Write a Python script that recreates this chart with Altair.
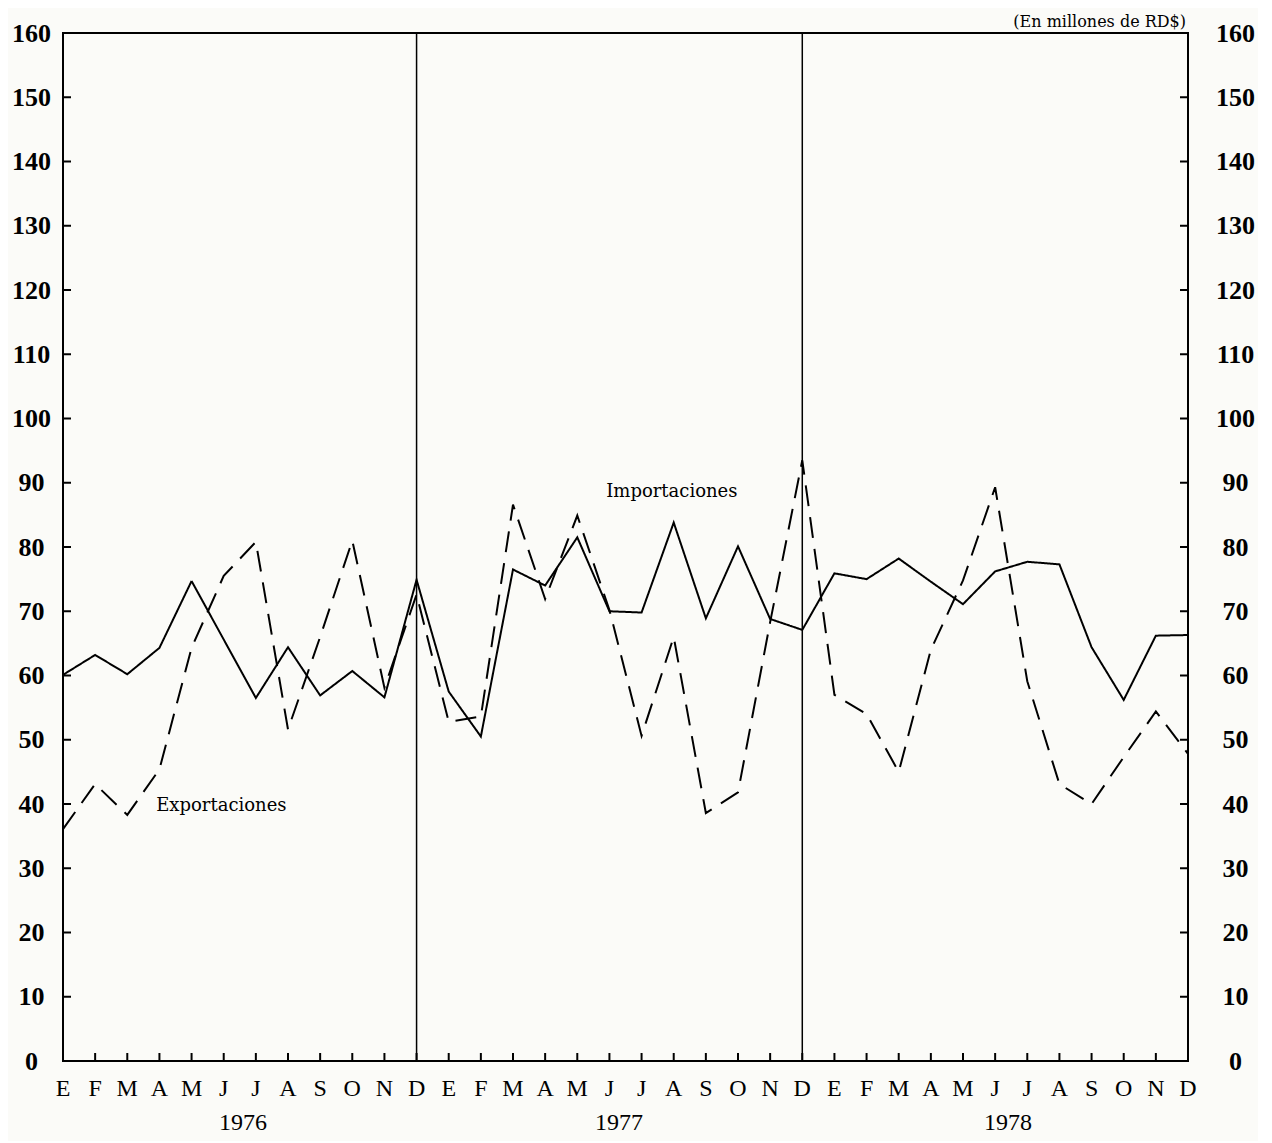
import altair as alt
import pandas as pd

# ---- data ----
month_letters = ["E", "F", "M", "A", "M", "J", "J", "A", "S", "O", "N", "D"]
years = ["1976", "1977", "1978"]
year_label_pos = [5.6, 17.3, 29.4]

importaciones = [
    60.1, 63.2, 60.2, 64.3, 74.7, 65.6, 56.5, 64.4, 56.9, 60.7, 56.6, 74.9,
    57.5, 50.5, 76.5, 74.0, 81.5, 70.0, 69.8, 83.8, 68.9, 80.1, 68.8, 67.1,
    75.9, 75.0, 78.2, 74.6, 71.1, 76.2, 77.7, 77.3, 64.4, 56.2, 66.2, 66.3,
]
exportaciones = [
    36.1, 43.1, 38.3, 45.4, 64.3, 75.5, 80.8, 51.6, 66.0, 81.0, 58.1, 72.6,
    52.8, 53.6, 86.6, 71.9, 84.9, 70.2, 50.6, 66.0, 38.6, 41.8, 68.3, 93.5,
    57.0, 54.0, 45.0, 64.0, 74.8, 89.3, 59.1, 43.1, 40.0, 47.3, 54.4, 47.8,
]

y_ticks = list(range(0, 161, 10))
separators = [11, 23]

series_names = ["Importaciones", "Exportaciones"]
series_label_x = [16.9, 2.9]
series_label_y = [88.5, 39.7]

unit_text = "(En millones de RD$)"

# ---- tables ----
n = len(importaciones)
df = pd.DataFrame({
    "mes": list(range(n)) * 2,
    "valor": importaciones + exportaciones,
    "serie": [series_names[0]] * n + [series_names[1]] * n,
})
ticks_y = pd.DataFrame({"v": y_ticks})
month_df = pd.DataFrame({
    "m": list(range(n)),
    "letra": [month_letters[i % 12] for i in range(n)],
})
sep_df = pd.DataFrame({"s": separators})
year_df = pd.DataFrame({"x": year_label_pos, "t": years})
lab_df = pd.DataFrame({"x": series_label_x, "y": series_label_y, "t": series_names})
unit_df = pd.DataFrame({"t": [unit_text]})

W, H = 1125, 1028
xs = alt.Scale(domain=[0, n - 1], nice=False, zero=False)
ys = alt.Scale(domain=[0, 160], nice=False, zero=True)

y_axis_left = alt.Axis(
    values=y_ticks, title=None, grid=False, domain=False, ticks=False, tickSize=0,
    labelFont="Liberation Serif", labelFontSize=26, labelFontWeight="bold",
    labelColor="black", labelPadding=32, labelAlign="center",
    labelOverlap=False, labelFlush=False,
)
y_axis_right = alt.Axis(
    values=y_ticks, title=None, grid=False, domain=False, ticks=False, tickSize=0,
    orient="right", labelFont="Liberation Serif", labelFontSize=26,
    labelFontWeight="bold", labelColor="black", labelPadding=47, labelAlign="center",
    labelOverlap=False, labelFlush=False,
)

lines = alt.Chart(df).mark_line(color="black", strokeWidth=2).encode(
    x=alt.X("mes:Q", scale=xs, axis=None),
    y=alt.Y("valor:Q", scale=ys, axis=y_axis_left),
    strokeDash=alt.StrokeDash(
        "serie:N",
        scale=alt.Scale(domain=series_names, range=[[1, 0], [21, 11]]),
        legend=None,
    ),
    detail="serie:N",
)

left_ticks = alt.Chart(ticks_y).mark_rule(color="black", strokeWidth=2).encode(
    y=alt.Y("v:Q", scale=ys, axis=None), x=alt.value(0), x2=alt.value(8)
)
right_ticks = alt.Chart(ticks_y).mark_rule(color="black", strokeWidth=2).encode(
    y=alt.Y("v:Q", scale=ys, axis=y_axis_right), x=alt.value(W - 8), x2=alt.value(W)
)
bottom_ticks = alt.Chart(month_df).mark_rule(color="black", strokeWidth=2).encode(
    x=alt.X("m:Q", scale=xs, axis=None), y=alt.value(H - 8), y2=alt.value(H)
)
month_text = alt.Chart(month_df).mark_text(
    font="Liberation Serif", fontSize=24, color="black", baseline="middle"
).encode(x=alt.X("m:Q", scale=xs, axis=None), y=alt.value(H + 28), text="letra:N")

seps = alt.Chart(sep_df).mark_rule(color="black", strokeWidth=1.5).encode(
    x=alt.X("s:Q", scale=xs, axis=None)
)
year_text = alt.Chart(year_df).mark_text(
    font="Liberation Serif", fontSize=24, color="black", baseline="middle"
).encode(x=alt.X("x:Q", scale=xs, axis=None), y=alt.value(H + 62), text="t:N")

series_text = alt.Chart(lab_df).mark_text(
    font="DejaVu Serif", fontSize=18, color="black", align="left", baseline="middle"
).encode(
    x=alt.X("x:Q", scale=xs, axis=None),
    y=alt.Y("y:Q", scale=ys, axis=None),
    text="t:N",
)

unit = alt.Chart(unit_df).mark_text(
    font="DejaVu Serif", fontSize=16, color="black", align="right", baseline="alphabetic"
).encode(x=alt.value(W - 2), y=alt.value(-6), text="t:N")

chart = alt.layer(
    seps, left_ticks, bottom_ticks, lines, right_ticks, series_text,
    month_text, year_text, unit
).resolve_scale(y="independent").properties(
    width=W, height=H,
    autosize=alt.AutoSizeParams(type="none"),
    padding={"left": 55, "top": 25, "right": 70, "bottom": 80},
    background="#fbfbf8",
).configure_view(stroke="black", strokeWidth=2)

chart.save("out.html", embed_options={"renderer": "svg", "actions": False})
